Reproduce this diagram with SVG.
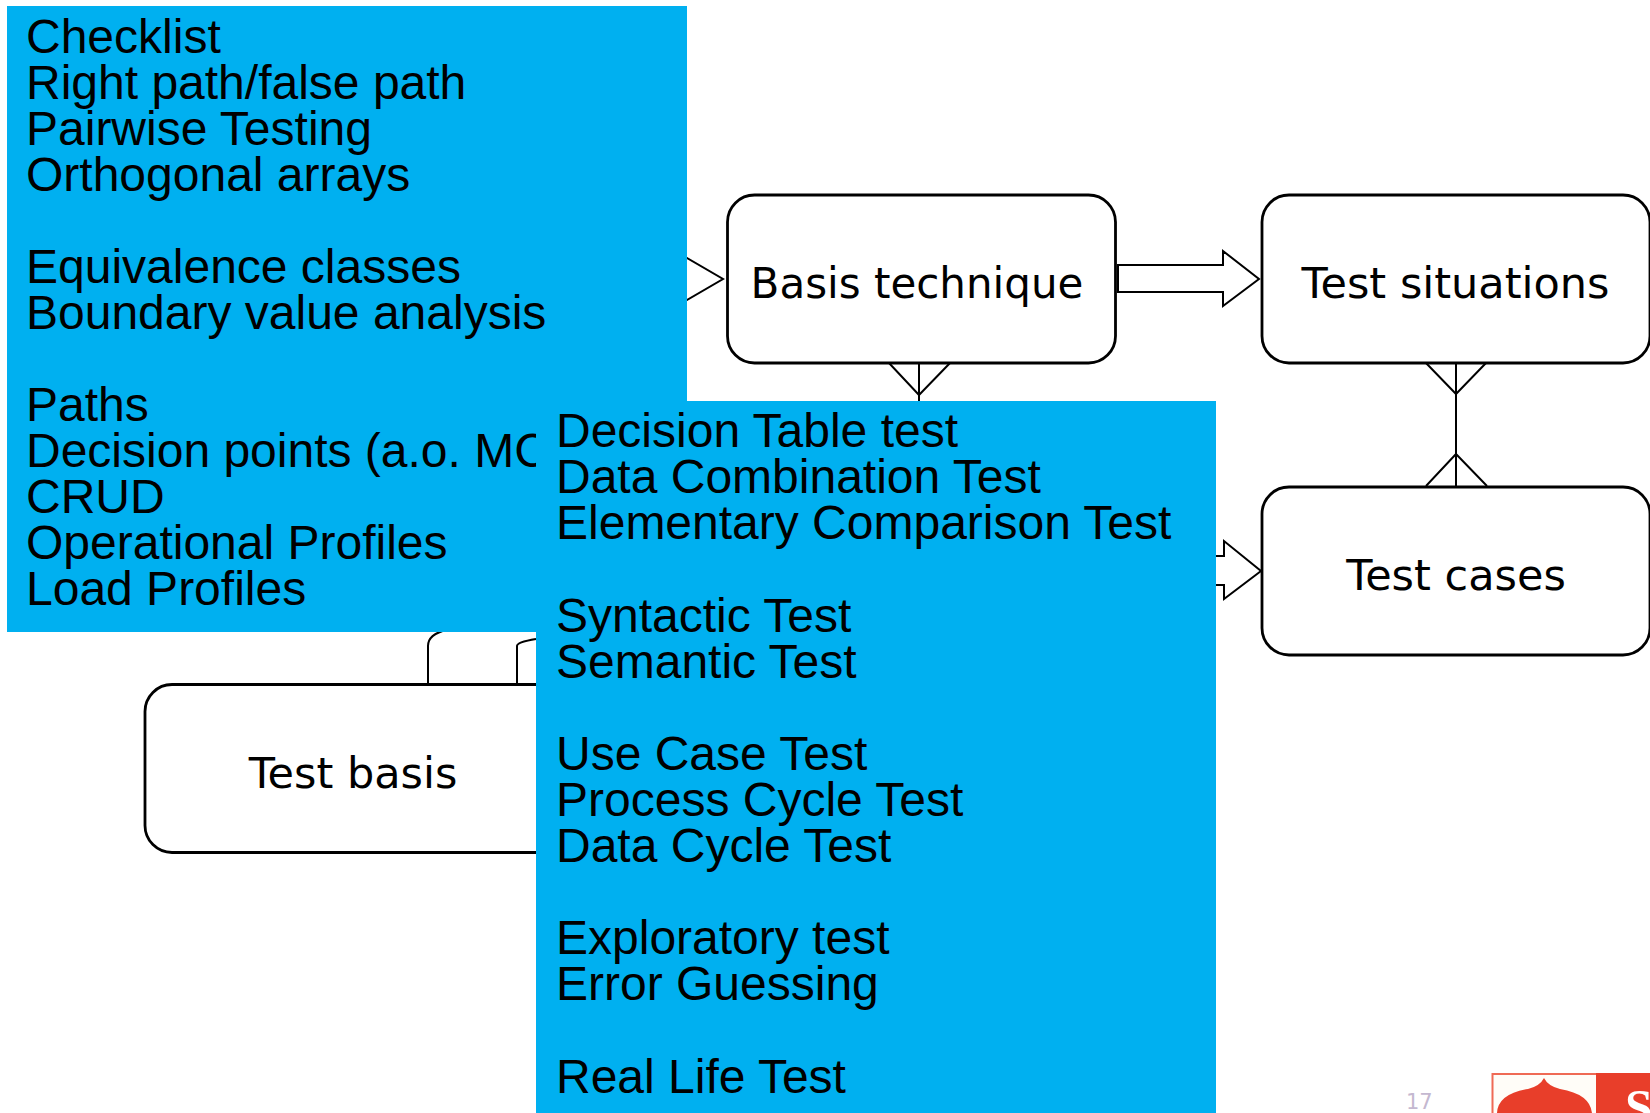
<svg xmlns="http://www.w3.org/2000/svg" width="1650" height="1113" viewBox="0 0 1650 1113">
<style>
.n{fill:#fff;stroke:#000;stroke-width:2.800}
.c{fill:#fff;stroke:#000;stroke-width:2}
.o{fill:none;stroke:#000;stroke-width:2}
.t{font-family:"DejaVu Sans",Verdana,sans-serif;font-size:43px;fill:#000;text-anchor:middle}
.b{fill:#00b0f0}
.l{font-family:"Liberation Sans",Arial,sans-serif;font-size:48px;fill:#000}
</style>
<rect width="1650" height="1113" fill="#fff"/>
<g id="connectors">
<path class="c" d="M680 254 L723 279 L680 304Z"/>
<path class="c" d="M1118 265H1223V251L1259 279L1223 306V292H1118Z"/>
<path class="o" d="M919 363V440M889 363L919 395L950 363"/>
<path class="c" d="M1200 556H1224V541L1261 571L1224 599V585H1200Z"/>
<path class="o" d="M1456 363V486M1426 363L1456 394L1486 363M1426 486L1456 454L1487 486"/>
<path class="o" d="M428 684V646Q428 634 447 630M517 684V646Q517 642 536 639"/>
</g>
<g id="test-basis"><rect class="n" x="145" y="684.500" width="420" height="168" rx="27"/><text class="t" x="353" y="788">Test basis</text></g>
<g id="basis-technique"><rect class="n" x="727.500" y="195" width="388" height="168" rx="27"/><text class="t" x="917" y="298" style="font-size:42px">Basis technique</text></g>
<g id="test-situations"><rect class="n" x="1262" y="195" width="388" height="168" rx="27"/><text class="t" x="1455.500" y="298">Test situations</text></g>
<g id="test-cases"><rect class="n" x="1262" y="487" width="388" height="168" rx="27"/><text class="t" x="1456" y="590">Test cases</text></g>
<g id="list-1"><rect class="b" x="7" y="6" width="680" height="626"/>
<text class="l"><tspan x="26" y="53">Checklist</tspan><tspan x="26" y="99">Right path/false path</tspan><tspan x="26" y="145">Pairwise Testing</tspan><tspan x="26" y="191">Orthogonal arrays</tspan><tspan x="26" y="283">Equivalence classes</tspan><tspan x="26" y="329">Boundary value analysis</tspan><tspan x="26" y="421">Paths</tspan><tspan x="26" y="467">Decision points (a.o. MCDC)</tspan><tspan x="26" y="513">CRUD</tspan><tspan x="26" y="559">Operational Profiles</tspan><tspan x="26" y="605">Load Profiles</tspan></text></g>
<g id="list-2"><rect class="b" x="536" y="401" width="680" height="712"/>
<text class="l"><tspan x="556" y="447">Decision Table test</tspan><tspan x="556" y="493">Data Combination Test</tspan><tspan x="556" y="539">Elementary Comparison Test</tspan><tspan x="556" y="632">Syntactic Test</tspan><tspan x="556" y="678">Semantic Test</tspan><tspan x="556" y="770">Use Case Test</tspan><tspan x="556" y="816">Process Cycle Test</tspan><tspan x="556" y="862">Data Cycle Test</tspan><tspan x="556" y="954">Exploratory test</tspan><tspan x="556" y="1000">Error Guessing</tspan><tspan x="556" y="1093">Real Life Test</tspan></text></g>
<g id="footer">
<text x="1406" y="1109" style="font-family:'DejaVu Sans',sans-serif;font-size:21px;fill:#c4b8d0">17</text>
<rect x="1492.500" y="1074" width="160" height="45" fill="#fffdf8" stroke="#ef6a55" stroke-width="2"/>
<rect x="1596" y="1073" width="54" height="40" fill="#e83e2a"/>
<path d="M1544 1078Q1548 1086 1560 1089Q1590 1094 1592 1113H1497Q1498 1094 1528 1089Q1540 1086 1544 1078Z" fill="#e83e2a"/>
<text x="1625" y="1124" style="font-family:'Liberation Serif',serif;font-size:50px;font-weight:bold;fill:#fff">S</text>
</g>
</svg>
